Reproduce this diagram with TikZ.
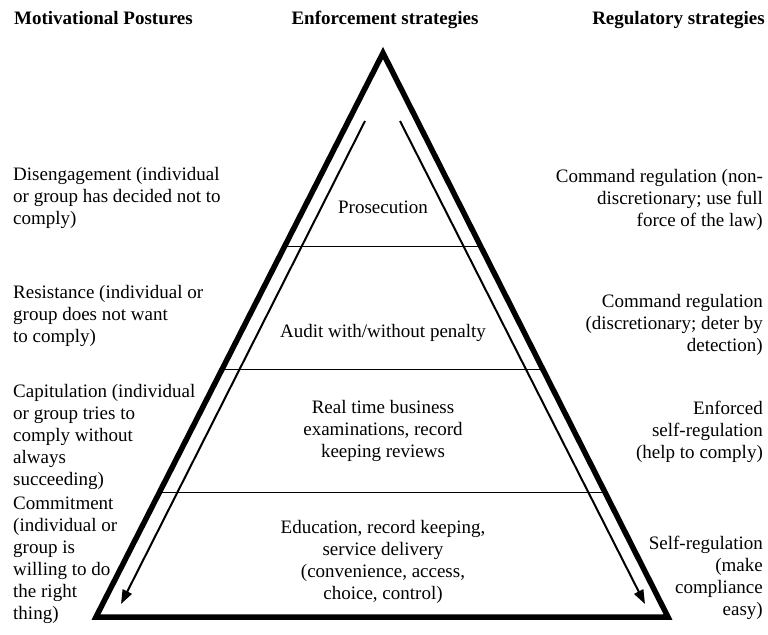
\documentclass[tikz,border=0pt]{standalone}
\usepackage{fontspec}
\setmainfont{Liberation Serif}
\usepackage{tikz}
\usetikzlibrary{arrows.meta}
\usetikzlibrary{calc}

\begin{document}
\begin{tikzpicture}[line cap=butt,line join=miter,x=1bp,y=-1bp,
  every node/.style={inner sep=0pt,font=\fontsize{19bp}{22bp}\selectfont},
  head/.style={font=\fontsize{19bp}{22bp}\selectfont\bfseries},
  posture/.style={anchor=north west,align=left},
  tier/.style={anchor=north,align=center},
  regul/.style={anchor=north east,align=right},
  edge/.style={line width=5.5bp},
  band/.style={line width=1.3bp},
  flow/.style={line width=2bp,-{Triangle[length=14bp,width=10bp]}}]
\useasboundingbox (0,0) rectangle (768,635);
\coordinate (apex) at (383,53);
\coordinate (bl) at (96,617);
\coordinate (br) at (668,617);
\foreach \t in {0.343,0.561,0.779}
  \draw [band] ($(apex)!\t!(bl)$)-- ($(apex)!\t!(br)$);
\draw [edge] (apex)-- (bl)-- (br)-- cycle;
\coordinate (lstart) at (365,121);
\coordinate (lend) at (121,604);
\coordinate (rstart) at (400,121);
\coordinate (rend) at (645,604);
\draw [flow] (lstart)-- (lend);
\draw [flow] (rstart)-- (rend);
\node[head,anchor=base west] (hpost) at (14,25) {Motivational Postures};
\node[head,anchor=base] (henf) at (385,25) {Enforcement strategies};
\node[head,anchor=base east] (hreg) at (765,25) {Regulatory strategies};
\node[posture] (dis) at (13,167) {Disengagement (individual\\or group has decided not to\\comply)};
\node[posture] (res) at (13,285) {Resistance (individual or\\group does not want\\to comply)};
\node[posture] (cap) at (13,384) {Capitulation (individual\\or group tries to\\comply without\\always\\succeeding)};
\node[posture] (com) at (13,497) {Commitment\\(individual or\\group is\\willing to do\\the right\\thing)};
\node[tier] (pros) at (383,201) {Prosecution};
\node[tier] (audit) at (383,324) {Audit with/without penalty};
\node[tier] (exam) at (383,400) {Real time business\\examinations, record\\keeping reviews};
\node[tier] (edu) at (383,520) {Education, record keeping,\\service delivery\\(convenience, access,\\choice, control)};
\node[regul] (cmdfull) at (763,169) {Command regulation (non-\\discretionary; use full\\force of the law)};
\node[regul] (cmddisc) at (763,294) {Command regulation\\(discretionary; deter by\\detection)};
\node[regul] (enfself) at (763,401) {Enforced\\self-regulation\\(help to comply)};
\node[regul] (self) at (763,536) {Self-regulation\\(make\\compliance\\easy)};
\end{tikzpicture}
\end{document}
